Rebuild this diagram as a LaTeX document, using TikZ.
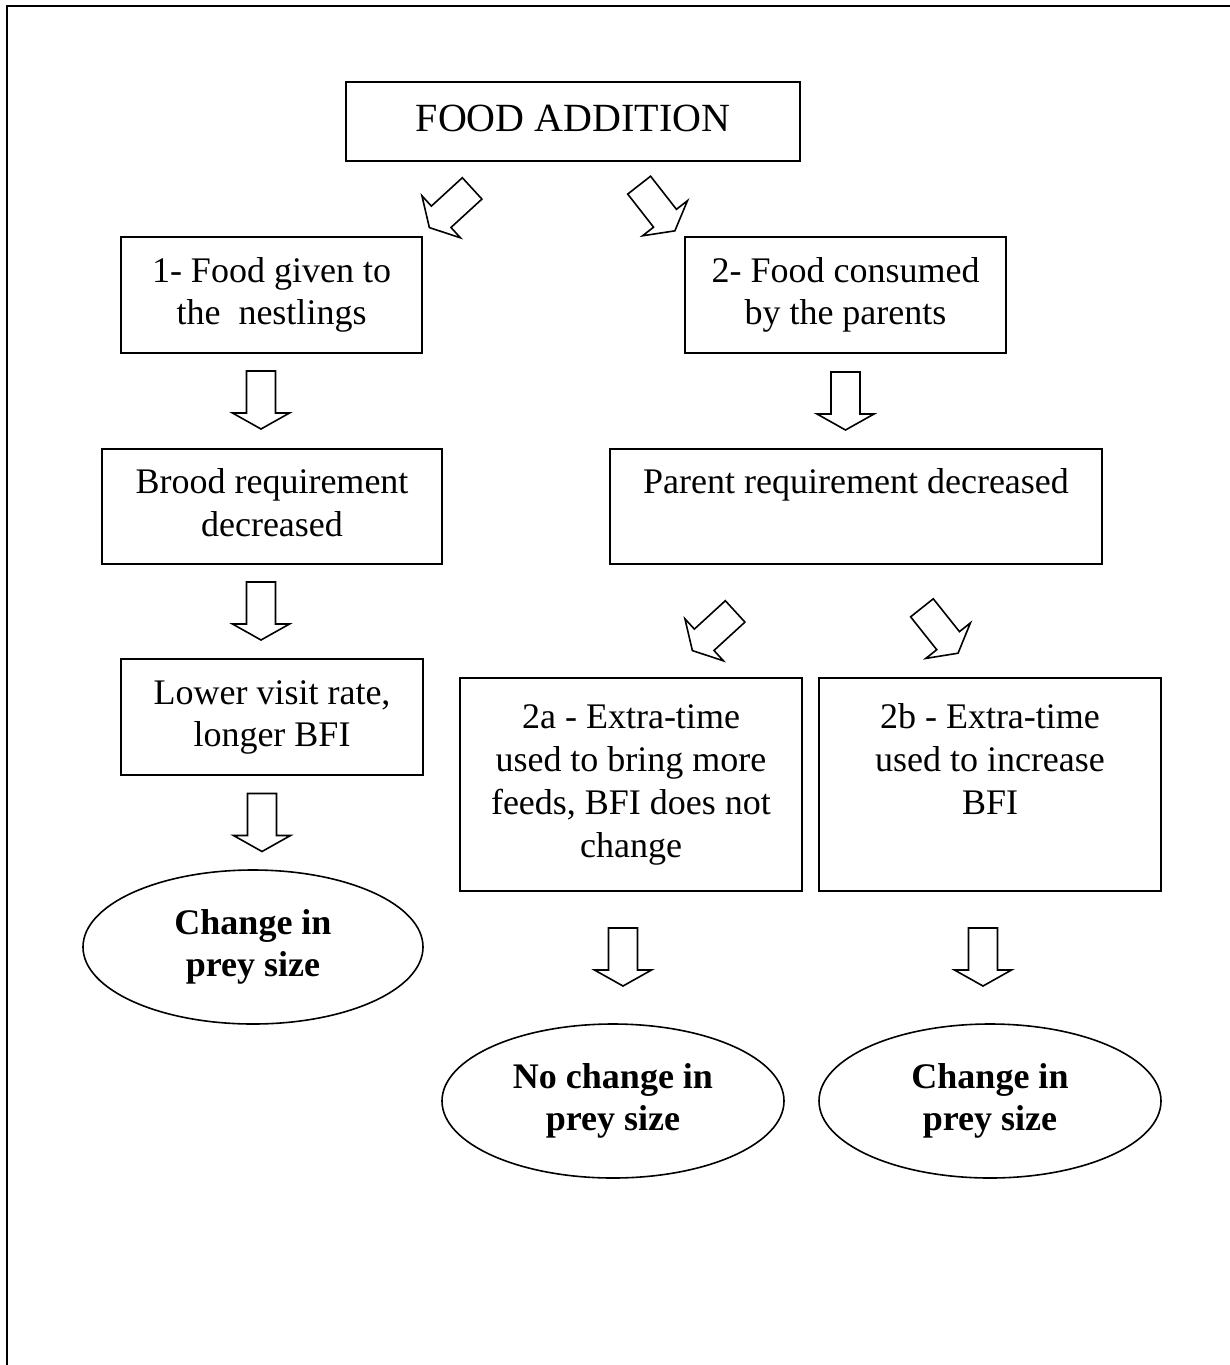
\documentclass[tikz,border=0pt]{standalone}
\usepackage{fontspec}
\setmainfont{Liberation Serif}
\usetikzlibrary{shapes.geometric}
\begin{document}
\begin{tikzpicture}[x=0.5pt,y=-0.5pt,
  box/.style={draw, line width=1pt, inner sep=0pt, align=center, font=\fontsize{18}{21.35}\selectfont},
  oval/.style={draw, ellipse, line width=0.8pt, inner sep=0pt, align=center, minimum width=171pt, minimum height=77pt, font=\fontsize{18}{21.35}\selectfont\bfseries},
  arrowline/.style={line width=0.8pt, line join=miter},
  blockarr/.pic={\draw[arrowline] (-14.5,-29) -- (14.5,-29) -- (14.5,13) -- (28.5,13) -- (0,29) -- (-28.5,13) -- (-14.5,13) -- cycle;}
]
\useasboundingbox (0,0) rectangle (1230,1365);
\draw[line width=1pt] (7,1365) -- (7,6) -- (1230,6);

\node[box, minimum width=227pt, minimum height=39.5pt, font=\fontsize{20}{24}\selectfont] (food) at (573,121.5) {\strut FOOD ADDITION\strut};

\node[box, minimum width=150.5pt, minimum height=58pt] (b1) at (271.5,295) {\strut 1- Food given to\strut\\\strut the\ \ nestlings\strut};
\node[box, minimum width=160.5pt, minimum height=58pt] (b2) at (845.5,295) {\strut 2- Food consumed\strut\\\strut by the parents\strut};

\node[box, minimum width=170pt, minimum height=57.5pt] (brood) at (272,506.5) {\strut Brood requirement\strut\\\strut decreased\strut};
\node[box, minimum width=246pt, minimum height=57.5pt] (parent) at (856,506.5) {\strut Parent requirement decreased\strut\\\strut};

\node[box, minimum width=151pt, minimum height=58pt] (lower) at (272,717) {\strut Lower visit rate,\strut\\\strut longer BFI\strut};

\node[box, minimum width=171pt, minimum height=106.5pt] (b2a) at (631,784.5) {\strut 2a - Extra-time\strut\\\strut used to bring more\strut\\\strut feeds, BFI does not\strut\\\strut change\strut};
\node[box, minimum width=171pt, minimum height=106.5pt] (b2b) at (990,784.5) {\strut 2b - Extra-time\strut\\\strut used to increase\strut\\\strut BFI\strut\\\strut};

\node[oval, minimum width=170pt] (e1) at (253,947) {\strut Change in\strut\\\strut prey size\strut};
\node[oval] (e2a) at (613,1101) {\strut No change in\strut\\\strut prey size\strut};
\node[oval] (e2b) at (990,1101) {\strut Change in\strut\\\strut prey size\strut};

\pic[rotate=-47.5] at (450.75,208) {blockarr};
\pic[rotate=38] at (657,208) {blockarr};
\pic at (261,400) {blockarr};
\pic at (845.5,401) {blockarr};
\pic at (261,611) {blockarr};
\pic at (262,822.5) {blockarr};
\pic[rotate=-47.5] at (713.75,631) {blockarr};
\pic[rotate=38.5] at (940,630.5) {blockarr};
\pic at (623,957) {blockarr};
\pic at (983,957) {blockarr};
\end{tikzpicture}
\end{document}
